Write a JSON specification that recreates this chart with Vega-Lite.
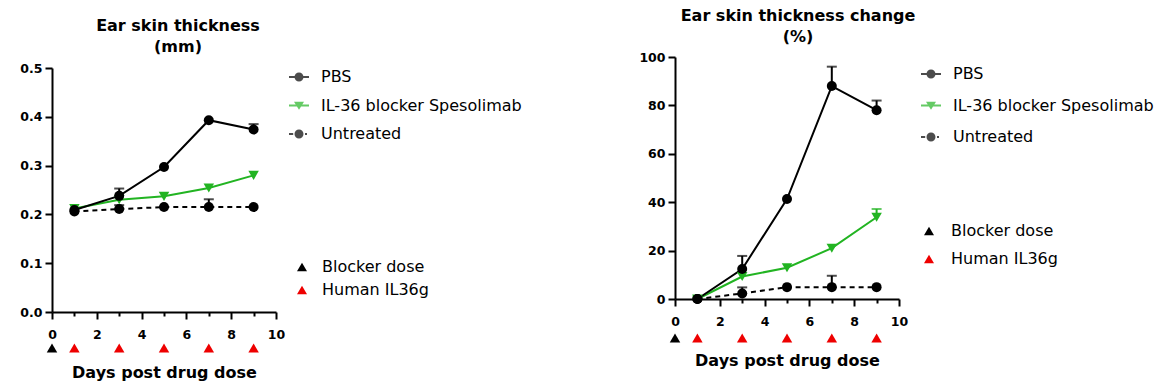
{
  "$schema": "https://vega.github.io/schema/vega-lite/v6.json",
  "padding": {"left": 19, "top": 8, "right": 5, "bottom": 5},
  "background": "white",
  "datasets": {
    "mm": [
      {"day": 1, "series": "IL-36 blocker Spesolimab", "value": 0.212},
      {"day": 3, "series": "IL-36 blocker Spesolimab", "value": 0.230},
      {"day": 5, "series": "IL-36 blocker Spesolimab", "value": 0.237},
      {"day": 7, "series": "IL-36 blocker Spesolimab", "value": 0.254},
      {"day": 9, "series": "IL-36 blocker Spesolimab", "value": 0.280},
      {"day": 1, "series": "PBS", "value": 0.209},
      {"day": 3, "series": "PBS", "value": 0.238, "upper": 0.253},
      {"day": 5, "series": "PBS", "value": 0.297},
      {"day": 7, "series": "PBS", "value": 0.393},
      {"day": 9, "series": "PBS", "value": 0.374, "upper": 0.385},
      {"day": 1, "series": "Untreated", "value": 0.206},
      {"day": 3, "series": "Untreated", "value": 0.211, "upper": 0.219},
      {"day": 5, "series": "Untreated", "value": 0.215},
      {"day": 7, "series": "Untreated", "value": 0.215, "upper": 0.231},
      {"day": 9, "series": "Untreated", "value": 0.215}
    ],
    "pct": [
      {"day": 1, "series": "IL-36 blocker Spesolimab", "value": 0, "upper": 1},
      {"day": 3, "series": "IL-36 blocker Spesolimab", "value": 9.3},
      {"day": 5, "series": "IL-36 blocker Spesolimab", "value": 12.9},
      {"day": 7, "series": "IL-36 blocker Spesolimab", "value": 21},
      {"day": 9, "series": "IL-36 blocker Spesolimab", "value": 33.8, "upper": 37.2},
      {"day": 1, "series": "PBS", "value": 0},
      {"day": 3, "series": "PBS", "value": 12.4, "upper": 17.8},
      {"day": 5, "series": "PBS", "value": 41.3},
      {"day": 7, "series": "PBS", "value": 88, "upper": 96},
      {"day": 9, "series": "PBS", "value": 78, "upper": 82},
      {"day": 1, "series": "Untreated", "value": 0},
      {"day": 3, "series": "Untreated", "value": 2.3, "upper": 4.8},
      {"day": 5, "series": "Untreated", "value": 4.9},
      {"day": 7, "series": "Untreated", "value": 4.9, "upper": 9.6},
      {"day": 9, "series": "Untreated", "value": 4.9}
    ],
    "doses": [
      {"day": 0, "dose": "Blocker dose"},
      {"day": 1, "dose": "Human IL36g"},
      {"day": 3, "dose": "Human IL36g"},
      {"day": 5, "dose": "Human IL36g"},
      {"day": 7, "dose": "Human IL36g"},
      {"day": 9, "dose": "Human IL36g"}
    ]
  },
  "hconcat": [
    {
      "width": 224,
      "height": 255,
      "title": {"text": ["Ear skin thickness", "(mm)"], "anchor": "middle", "dx": 14, "offset": 2},
      "data": {"name": "mm"},
      "encoding": {
        "x": {"field": "day", "type": "quantitative", "scale": {"domain": [0, 10], "nice": false}, "axis": {"values": [0,1,2,3,4,5,6,7,8,9,10], "labelFlush": false, "labelExpr": "datum.value % 2 === 0 ? datum.label : ''", "tickSize": {"condition": {"test": "datum.value % 2 === 0", "value": 7}, "value": 4}, "title": "Days post drug dose", "titlePadding": 24}}
      },
      "layer": [
        {
          "transform": [{"filter": "datum.series !== 'Untreated'"}],
          "mark": {"type": "line", "strokeWidth": 2},
          "encoding": {
            "y": {"field": "value", "type": "quantitative", "scale": {"domain": [0, 0.5], "nice": false, "range": [255, 11]}, "axis": {"values": [0,0.05,0.1,0.15,0.2,0.25,0.3,0.35,0.4,0.45,0.5], "labelExpr": "round(datum.value*100) % 10 === 0 ? format(datum.value, '.1f') : ''", "tickSize": {"condition": {"test": "round(datum.value*100) % 10 === 0", "value": 7}, "value": 4}, "title": null}},
            "color": {"field": "series", "type": "nominal", "scale": {"domain": ["PBS", "IL-36 blocker Spesolimab", "Untreated"], "range": ["#000000", "#22b422", "#000000"]}}
          }
        },
        {
          "transform": [{"filter": "datum.series === 'Untreated'"}],
          "mark": {"type": "line", "strokeWidth": 2, "strokeDash": [5, 4]},
          "encoding": {
            "y": {"field": "value", "type": "quantitative"},
            "color": {"field": "series", "type": "nominal"}
          }
        },
        {
          "transform": [{"filter": "isValid(datum.upper)"}],
          "mark": {"type": "rule", "strokeWidth": 2},
          "encoding": {
            "y": {"field": "value", "type": "quantitative"},
            "y2": {"field": "upper"},
            "color": {"field": "series", "type": "nominal"}
          }
        },
        {
          "transform": [{"filter": "isValid(datum.upper)"}],
          "mark": {"type": "tick", "orient": "horizontal", "size": 10, "thickness": 2},
          "encoding": {
            "y": {"field": "upper", "type": "quantitative"},
            "color": {"field": "series", "type": "nominal"}
          }
        },
        {
          "transform": [{"filter": "datum.series === 'IL-36 blocker Spesolimab'"}],
          "mark": {"type": "point", "filled": true, "size": 110, "opacity": 1, "shape": "triangle-down"},
          "encoding": {
            "y": {"field": "value", "type": "quantitative"},
            "color": {"field": "series", "type": "nominal"}
          }
        },
        {
          "transform": [{"filter": "datum.series !== 'IL-36 blocker Spesolimab'"}],
          "mark": {"type": "point", "filled": true, "size": 100, "opacity": 1, "shape": "circle"},
          "encoding": {
            "y": {"field": "value", "type": "quantitative"},
            "color": {"field": "series", "type": "nominal"}
          }
        },
        {
          "mark": {"type": "point", "filled": true, "size": 0, "opacity": 1},
          "encoding": {
            "y": {"field": "value", "type": "quantitative"},
            "color": {"field": "series", "type": "nominal"},
            "shape": {"field": "series", "type": "nominal", "scale": {"domain": ["PBS", "IL-36 blocker Spesolimab", "Untreated"], "range": [
              "M-1,-0.09H1V0.09H-1Z M-0.45,0A0.45,0.45,0,1,1,0.45,0A0.45,0.45,0,1,1,-0.45,0Z",
              "M-1,-0.09H1V0.09H-1Z M-0.5,-0.38L0.5,-0.38L0,0.42Z",
              "M-1,-0.09H-0.58V0.09H-1Z M-0.45,0A0.45,0.45,0,1,1,0.45,0A0.45,0.45,0,1,1,-0.45,0Z M0.6,-0.09H0.8V0.09H0.6Z"]},
              "legend": {"orient": "none", "legendX": 237, "legendY": 10, "title": null, "symbolSize": 400, "symbolStrokeWidth": 0, "symbolOpacity": 1, "labelFontSize": 16, "labelFont": "DejaVu Sans", "labelFontWeight": "normal", "labelColor": "#000000", "labelLimit": 400, "labelOffset": 12, "rowPadding": 10.5, "padding": 0}}
          }
        },
        {
          "data": {"name": "doses"},
          "mark": {"type": "point", "shape": "triangle-up", "filled": true, "size": 110, "opacity": 1, "yOffset": 36, "clip": false},
          "encoding": {
            "y": {"datum": 0, "type": "quantitative"},
            "fill": {"field": "dose", "type": "nominal", "scale": {"domain": ["Blocker dose", "Human IL36g"], "range": ["#000000", "#ee0000"]},
              "legend": {"orient": "none", "legendX": 242, "legendY": 202, "title": null, "symbolType": "triangle-up", "symbolSize": 100, "labelFontSize": 16, "labelFont": "DejaVu Sans", "labelColor": "#000000", "labelOffset": 12, "rowPadding": 7, "padding": 0, "symbolStrokeWidth": 0, "symbolOpacity": 1}}
          }
        }
      ]
    },
    {
      "width": 224,
      "height": 242,
      "title": {"text": ["Ear skin thickness change", "(%)"], "anchor": "middle", "dx": 11, "offset": 6},
      "data": {"name": "pct"},
      "encoding": {
        "x": {"field": "day", "type": "quantitative", "scale": {"domain": [0, 10], "nice": false}, "axis": {"values": [0,1,2,3,4,5,6,7,8,9,10], "labelFlush": false, "labelExpr": "datum.value % 2 === 0 ? datum.label : ''", "tickSize": {"condition": {"test": "datum.value % 2 === 0", "value": 7}, "value": 4}, "title": "Days post drug dose", "titlePadding": 25}}
      },
      "layer": [
        {
          "transform": [{"filter": "datum.series !== 'Untreated'"}],
          "mark": {"type": "line", "strokeWidth": 2},
          "encoding": {
            "y": {"field": "value", "type": "quantitative", "scale": {"domain": [0, 100], "nice": false}, "axis": {"values": [0,10,20,30,40,50,60,70,80,90,100], "labelExpr": "datum.value % 20 === 0 ? datum.label : ''", "tickSize": {"condition": {"test": "datum.value % 20 === 0", "value": 7}, "value": 4}, "title": null}},
            "color": {"field": "series", "type": "nominal", "scale": {"domain": ["PBS", "IL-36 blocker Spesolimab", "Untreated"], "range": ["#000000", "#22b422", "#000000"]}}
          }
        },
        {
          "transform": [{"filter": "datum.series === 'Untreated'"}],
          "mark": {"type": "line", "strokeWidth": 2, "strokeDash": [5, 4]},
          "encoding": {
            "y": {"field": "value", "type": "quantitative"},
            "color": {"field": "series", "type": "nominal"}
          }
        },
        {
          "transform": [{"filter": "isValid(datum.upper)"}],
          "mark": {"type": "rule", "strokeWidth": 2},
          "encoding": {
            "y": {"field": "value", "type": "quantitative"},
            "y2": {"field": "upper"},
            "color": {"field": "series", "type": "nominal"}
          }
        },
        {
          "transform": [{"filter": "isValid(datum.upper)"}],
          "mark": {"type": "tick", "orient": "horizontal", "size": 10, "thickness": 2},
          "encoding": {
            "y": {"field": "upper", "type": "quantitative"},
            "color": {"field": "series", "type": "nominal"}
          }
        },
        {
          "transform": [{"filter": "datum.series === 'IL-36 blocker Spesolimab'"}],
          "mark": {"type": "point", "filled": true, "size": 110, "opacity": 1, "shape": "triangle-down"},
          "encoding": {
            "y": {"field": "value", "type": "quantitative"},
            "color": {"field": "series", "type": "nominal"}
          }
        },
        {
          "transform": [{"filter": "datum.series !== 'IL-36 blocker Spesolimab'"}],
          "mark": {"type": "point", "filled": true, "size": 100, "opacity": 1, "shape": "circle"},
          "encoding": {
            "y": {"field": "value", "type": "quantitative"},
            "color": {"field": "series", "type": "nominal"}
          }
        },
        {
          "mark": {"type": "point", "filled": true, "size": 0, "opacity": 1},
          "encoding": {
            "y": {"field": "value", "type": "quantitative"},
            "color": {"field": "series", "type": "nominal"},
            "shape": {"field": "series", "type": "nominal", "scale": {"domain": ["PBS", "IL-36 blocker Spesolimab", "Untreated"], "range": [
              "M-1,-0.09H1V0.09H-1Z M-0.45,0A0.45,0.45,0,1,1,0.45,0A0.45,0.45,0,1,1,-0.45,0Z",
              "M-1,-0.09H1V0.09H-1Z M-0.5,-0.38L0.5,-0.38L0,0.42Z",
              "M-1,-0.09H-0.58V0.09H-1Z M-0.45,0A0.45,0.45,0,1,1,0.45,0A0.45,0.45,0,1,1,-0.45,0Z M0.6,-0.09H0.8V0.09H0.6Z"]},
              "legend": {"orient": "none", "legendX": 246, "legendY": 7, "title": null, "symbolSize": 400, "symbolStrokeWidth": 0, "symbolOpacity": 1, "labelFontSize": 16, "labelFont": "DejaVu Sans", "labelFontWeight": "normal", "labelColor": "#000000", "labelLimit": 400, "labelOffset": 12, "rowPadding": 13.5, "padding": 0}}
          }
        },
        {
          "data": {"name": "doses"},
          "mark": {"type": "point", "shape": "triangle-up", "filled": true, "size": 110, "opacity": 1, "yOffset": 39, "clip": false},
          "encoding": {
            "y": {"datum": 0, "type": "quantitative"},
            "fill": {"field": "dose", "type": "nominal", "scale": {"domain": ["Blocker dose", "Human IL36g"], "range": ["#000000", "#ee0000"]},
              "legend": {"orient": "none", "legendX": 246, "legendY": 166, "title": null, "symbolType": "triangle-up", "symbolSize": 100, "labelFontSize": 16, "labelFont": "DejaVu Sans", "labelColor": "#000000", "labelOffset": 14, "rowPadding": 12, "padding": 0, "symbolStrokeWidth": 0, "symbolOpacity": 1}}
          }
        }
      ]
    }
  ],
  "spacing": 116,
  "resolve": {
    "scale": {"color": "independent", "shape": "independent", "fill": "independent", "x": "independent", "y": "independent"},
    "legend": {"shape": "independent", "fill": "independent", "color": "independent"}
  },
  "config": {
    "view": {"stroke": null},
    "title": {"font": "DejaVu Sans", "fontSize": 16, "fontWeight": "bold", "color": "#000000", "lineHeight": 21},
    "axis": {
      "grid": false,
      "domainColor": "#000000",
      "domainWidth": 2,
      "tickColor": "#000000",
      "tickWidth": 2,
      "labelColor": "#000000",
      "labelFont": "DejaVu Sans",
      "labelFontWeight": "bold",
      "labelFontSize": 12.5,
      "labelPadding": 3,
      "titleFont": "DejaVu Sans",
      "titleFontWeight": "bold",
      "titleFontSize": 16,
      "titleColor": "#000000"
    },
    "axisX": {"labelPadding": 9}
  }
}
